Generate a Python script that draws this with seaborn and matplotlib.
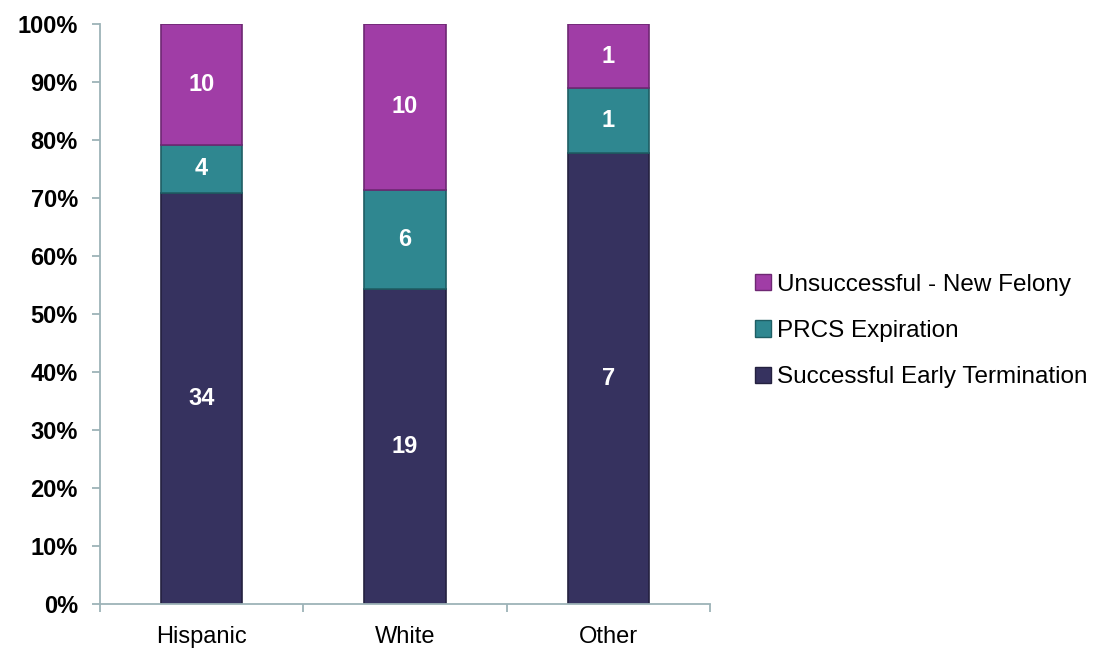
import matplotlib
matplotlib.use("Agg")
import matplotlib.pyplot as plt
import seaborn as sns
import pandas as pd
import numpy as np
from matplotlib.ticker import FixedLocator, PercentFormatter
from matplotlib.patches import Patch

categories = ["Hispanic", "White", "Other"]
series_names = ["Successful Early Termination", "PRCS Expiration", "Unsuccessful - New Felony"]
successful = [34, 19, 7]
prcs = [4, 6, 1]
unsuccessful = [10, 10, 1]
colors = ["#36325F", "#2F8790", "#A03DA6"]
edge_colors = ["#24213F", "#1F5E64", "#6E2873"]
yticks = [0, 10, 20, 30, 40, 50, 60, 70, 80, 90, 100]

sns.set_theme(style="white")
plt.rcParams["font.family"] = ["Liberation Sans", "DejaVu Sans"]
plt.rcParams["text.color"] = "black"
plt.rcParams["xtick.color"] = "black"
plt.rcParams["ytick.color"] = "black"

counts = np.array([successful, prcs, unsuccessful], dtype=float)
totals = counts.sum(axis=0)
pct = counts / totals * 100

fig = plt.figure(figsize=(11.2, 6.48), dpi=100)
ax = fig.add_axes([100 / 1120, 44 / 648, 610 / 1120, 580 / 648])

bottom = np.zeros(len(categories))
for i, name in enumerate(series_names):
    df = pd.DataFrame({"cat": categories, "val": pct[i]})
    sns.barplot(data=df, x="cat", y="val", ax=ax, color=colors[i], bottom=bottom,
                width=0.40, saturation=1, edgecolor=edge_colors[i], linewidth=1.2,
                order=categories)
    for j in range(len(categories)):
        ax.text(j, bottom[j] + pct[i][j] / 2, f"{int(counts[i][j])}", ha="center",
                va="center", color="white", fontsize=17, fontweight="bold")
    bottom = bottom + pct[i]

ax.set_xlim(-0.5, len(categories) - 0.5)
ax.set_ylim(0, 100)
ax.yaxis.set_major_locator(FixedLocator(yticks))
ax.yaxis.set_major_formatter(PercentFormatter(decimals=0))
ax.set_xlabel("")
ax.set_ylabel("")

spine_color = "#9DB3B8"
for s in ["top", "right"]:
    ax.spines[s].set_visible(False)
for s in ["left", "bottom"]:
    ax.spines[s].set_color(spine_color)
    ax.spines[s].set_linewidth(1.3)

ax.tick_params(axis="y", which="major", left=True, length=6, width=1.3, color=spine_color,
               labelsize=17, pad=10, labelcolor="black")
for lab in ax.get_yticklabels():
    lab.set_fontweight("bold")
ax.set_xticks(np.arange(-0.5, len(categories), 1.0), minor=True)
ax.tick_params(axis="x", which="major", bottom=False, labelsize=17, pad=10, labelcolor="black")
ax.tick_params(axis="x", which="minor", bottom=True, length=6, width=1.3, color=spine_color)

handles = [Patch(facecolor=colors[i], edgecolor=edge_colors[i], label=series_names[i])
           for i in range(len(series_names))]
fig.legend(handles=handles[::-1], loc="center left", bbox_to_anchor=(0.655, 0.489),
           frameon=False, fontsize=17.5, handlelength=0.65, handleheight=0.65,
           handletextpad=0.25, labelspacing=1.0)

fig.savefig("out.png", dpi=100)
